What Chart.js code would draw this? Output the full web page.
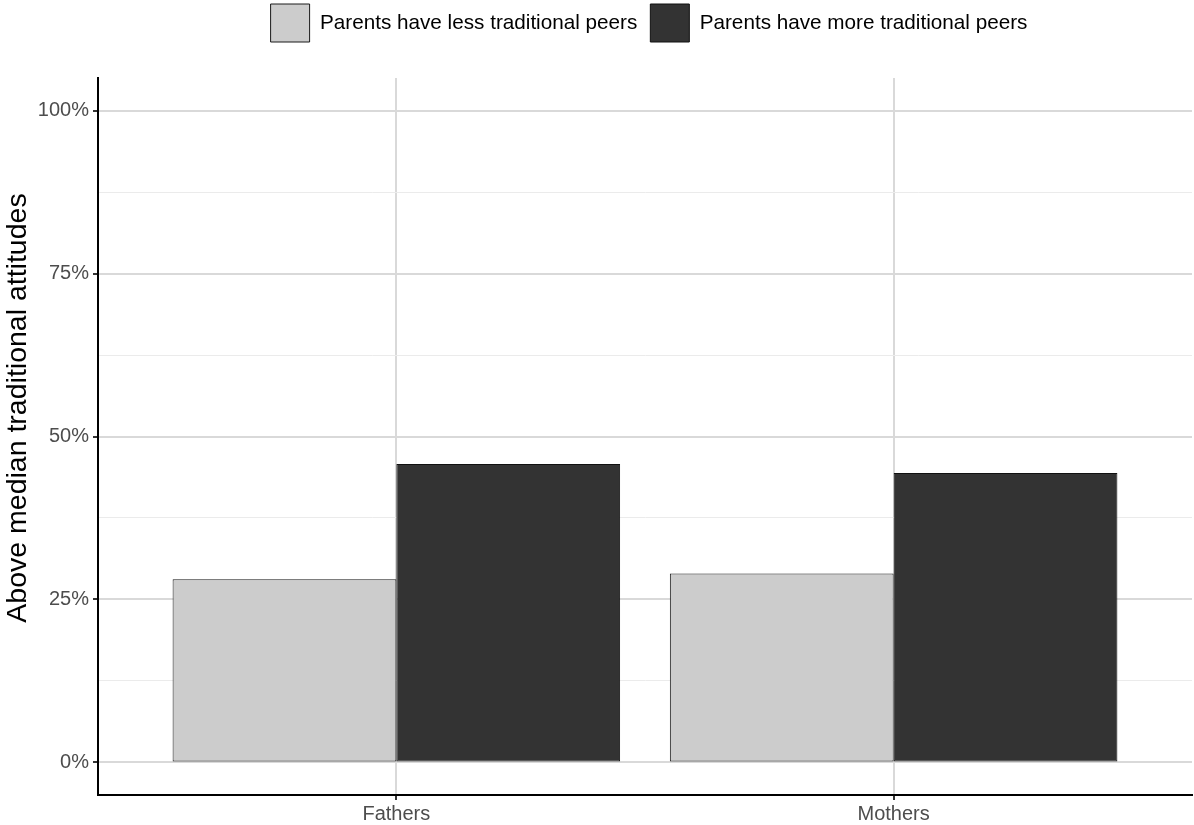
<!DOCTYPE html>
<html>
<head>
<meta charset="utf-8">
<script src="https://cdn.jsdelivr.net/npm/chart.js@4.4.1/dist/chart.umd.min.js"></script>
<style>
  body { margin: 0; background: #fff; }
  #wrap { width: 1194px; height: 825px; }
</style>
</head>
<body>
<div id="wrap"><canvas id="myChart" width="1194" height="825"></canvas></div>
<script>
// data
const categories = ['Fathers', 'Mothers'];
const lessTraditional = [28.1, 29.0];
const moreTraditional = [45.8, 44.4];
const seriesNames = ['Parents have less traditional peers', 'Parents have more traditional peers'];
const yTicks = [0, 12.5, 25, 37.5, 50, 62.5, 75, 87.5, 100];
const yTitle = 'Above median traditional attitudes';

const font = "'Liberation Sans', Arial, Helvetica, sans-serif";

// bars sit on a linear x scale so the outer gap can match ggplot's 0.6 expansion
const toPoints = (vals) => vals.map((v, i) => ({ x: i, y: v }));

// legend: extra room below it, and centred over the plot panel like ggplot does
const legendTweak = {
  id: 'legendTweak',
  beforeInit(chart) {
    const origFit = chart.legend.fit;
    chart.legend.fit = function () {
      origFit.bind(chart.legend)();
      this.height = 87;
    };
  },
  beforeDraw(chart) {
    const lg = chart.legend;
    lg.left = chart.chartArea.left + 4;
    lg.right = chart.chartArea.right + 4;
    lg.width = lg.right - lg.left;
  }
};

// y title drawn by hand, the reference has it sitting a bit above the panel centre
const yTitlePlugin = {
  id: 'yTitlePlugin',
  afterDraw(chart) {
    const c = chart.ctx;
    c.save();
    c.translate(26, 408);
    c.rotate(-Math.PI / 2);
    c.textAlign = 'center';
    c.textBaseline = 'alphabetic';
    c.fillStyle = '#000';
    c.font = '28.5px ' + font;
    c.fillText(yTitle, 0, 0);
    c.restore();
  }
};

const ctx = document.getElementById('myChart');

new Chart(ctx, {
  type: 'bar',
  data: {
    datasets: [{
      label: seriesNames[0],
      data: toPoints(lessTraditional),
      backgroundColor: '#cccccc',
      borderColor: '#1a1a1a',
      borderWidth: 1,
      borderSkipped: false
    }, {
      label: seriesNames[1],
      data: toPoints(moreTraditional),
      backgroundColor: '#333333',
      borderColor: '#111111',
      borderWidth: 1,
      borderSkipped: false
    }]
  },
  options: {
    responsive: false,
    animation: false,
    layout: { padding: { top: -9, right: 2, left: 0, bottom: 0 } },
    datasets: { bar: { categoryPercentage: 0.9, barPercentage: 1.0 } },
    plugins: {
      tooltip: { enabled: false },
      legend: {
        position: 'top',
        labels: {
          boxWidth: 39,
          boxHeight: 38,
          padding: 13,
          color: '#000',
          font: { family: font, size: 20.7 }
        }
      }
    },
    scales: {
      x: {
        type: 'linear',
        offset: false,
        min: -0.6,
        max: 1.6,
        afterBuildTicks: (scale) => { scale.ticks = categories.map((c, i) => ({ value: i })); },
        afterFit: (scale) => { scale.height = 30; },
        ticks: {
          autoSkip: false,
          padding: 2,
          color: '#4d4d4d',
          font: { family: font, size: 20 },
          callback: (v) => categories[v]
        },
        grid: { offset: false, color: '#d9d9d9', lineWidth: 2, tickColor: '#333', tickLength: 5, tickWidth: 2 },
        border: { color: '#000', width: 2 }
      },
      y: {
        min: -5,
        max: 105,
        afterBuildTicks: (scale) => { scale.ticks = yTicks.map(v => ({ value: v })); },
        afterFit: (scale) => { scale.width = 98; },
        ticks: {
          autoSkip: false,
          padding: 4,
          color: '#4d4d4d',
          font: { family: font, size: 20 },
          callback: (v) => (v % 25 === 0 ? v + '%' : '')
        },
        grid: {
          color: (c) => (c.tick && c.tick.value % 25 === 0 ? '#d9d9d9' : '#ebebeb'),
          lineWidth: (c) => (c.tick && c.tick.value % 25 === 0 ? 2 : 1),
          tickColor: (c) => (c.tick && c.tick.value % 25 === 0 ? '#333' : 'rgba(0,0,0,0)'),
          tickLength: 5,
          tickWidth: 2
        },
        border: { color: '#000', width: 2 },
        title: { display: false }
      }
    }
  },
  plugins: [legendTweak, yTitlePlugin]
});
</script>
</body>
</html>
